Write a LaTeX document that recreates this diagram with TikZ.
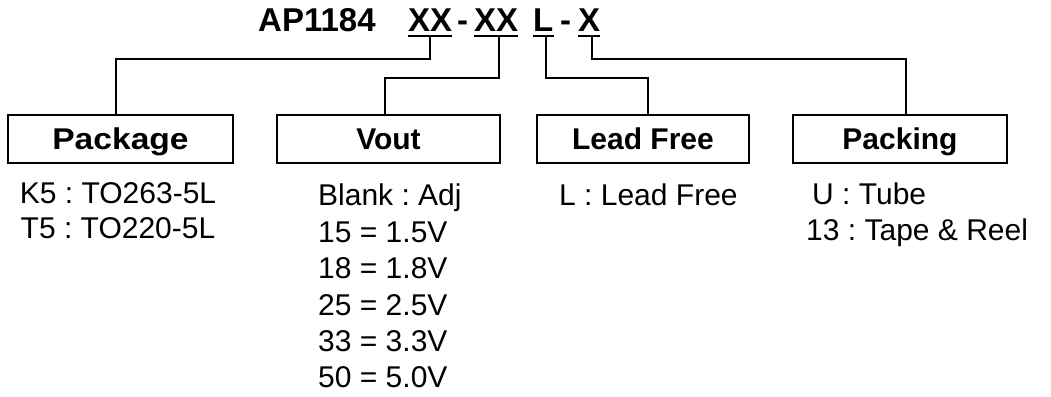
\documentclass[tikz,border=0pt]{standalone}
\usepackage{fontspec}
\setmainfont{Liberation Sans}
\usetikzlibrary{calc}
\frenchspacing
\begin{document}
\begin{tikzpicture}[x=1pt,y=-1pt,
  title/.style={inner sep=0pt,anchor=base west,font=\fontsize{33}{36}\selectfont\bfseries},
  field/.style={draw,line width=2pt,minimum height=48pt,inner sep=0pt,text height=21.5pt,text depth=0pt,font=\fontsize{30}{34}\selectfont\bfseries},
  body/.style={inner sep=0pt,anchor=base west,font=\fontsize{30}{34}\selectfont},
  conn/.style={line width=2pt},
  uline/.style={line width=2pt}]
\useasboundingbox (0,0) rectangle (1051,396);
% title
\node[title] (ap) at (258,32) {AP1184};
\node[title] (xa) at (408,32) {XX};
\node[title] (d1) at (457,32) {-};
\node[title] (xb) at (474,32) {XX};
\node[title] (ll) at (533,32) {L};
\node[title] (d2) at (560,32) {-};
\node[title] (xc) at (578,32) {X};
\foreach \n in {xa,xb,ll,xc}{
  \draw[uline] ($(\n.base west)+(0,4)$) -- ($(\n.base east)+(0,4)$);
}
% boxes
\node[field,minimum width=225pt] (pkg) at (120.5,139) {\scalebox{1.12}[1]{Package}};
\node[field,minimum width=223pt] (vout) at (388.5,139) {Vout};
\node[field,minimum width=212pt] (lf) at (643,139) {Lead Free};
\node[field,minimum width=214pt] (pk) at (900,139) {Packing};
% connector points
\coordinate (ta) at ($(xa.base)+(0,4)$);
\coordinate (tb) at ($(xb.base)+(2.5,4)$);
\coordinate (tl) at ($(ll.base)+(2.5,4)$);
\coordinate (tc) at ($(xc.base)+(2.5,4)$);
\coordinate (ba) at ($(pkg.north)+(-4.5,0)$);
\coordinate (bb) at ($(vout.north)+(-3.5,0)$);
\coordinate (bl) at ($(lf.north)+(5,0)$);
\coordinate (bc) at ($(pk.north)+(6,0)$);
\draw[conn] (ta) -- (ta |- 0,59) -- (ba |- 0,59) -- (ba);
\draw[conn] (tb) -- (tb |- 0,78) -- (bb |- 0,78) -- (bb);
\draw[conn] (tl) -- (tl |- 0,78) -- (bl |- 0,78) -- (bl);
\draw[conn] (tc) -- (tc |- 0,59) -- (bc |- 0,59) -- (bc);
% options
\node[body,anchor=base] (k5) at (118,203) {K5 : TO263-5L};
\node[body,anchor=base] (t5) at (118,238) {T5 : TO220-5L};
\node[body] (v0) at (318,205) {Blank : Adj};
\node[body] (v1) at (318,242) {15 = 1.5V};
\node[body] (v2) at (318,278) {18 = 1.8V};
\node[body] (v3) at (318,315) {25 = 2.5V};
\node[body] (v4) at (318,351) {33 = 3.3V};
\node[body] (v5) at (318,387) {50 = 5.0V};
\node[body] (l0) at (559,205) {L : Lead Free};
\node[body] (p0) at (812,204) {U : Tube};
\node[body] (p1) at (806,240) {13 : Tape \& Reel};
\end{tikzpicture}
\end{document}
